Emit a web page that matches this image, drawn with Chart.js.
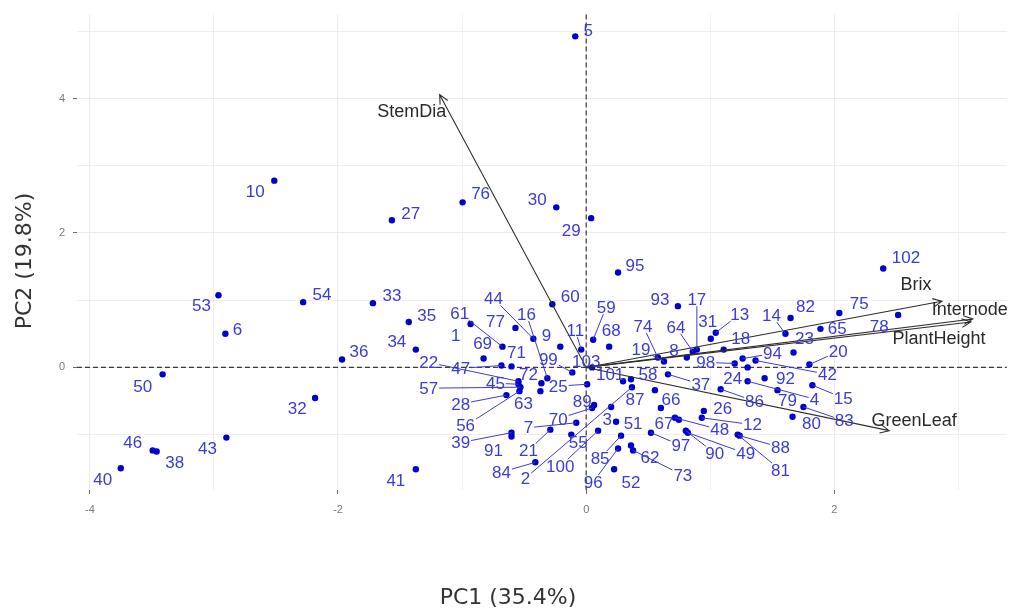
<!DOCTYPE html>
<html>
<head>
<meta charset="utf-8">
<script src="https://cdn.jsdelivr.net/npm/chart.js@4.4.1/dist/chart.umd.min.js"></script>
<style>
  html, body { margin: 0; padding: 0; background: #ffffff; }
  #wrap { width: 1010px; height: 612px; position: relative; }
</style>
</head>
<body>
<div id="wrap"><canvas id="biplot" width="1010" height="612"></canvas></div>
<script>
// Sample identifiers (1..103)
const ids = Array.from({ length: 103 }, (_, i) => String(i + 1));

// Principal component scores per sample
const pc1 = [
  -0.932, 0.369, 0.201, 1.301, -0.088, -2.908, -0.080, 0.811, -0.209, -2.514,
  -0.040, 0.932, 1.044, 1.606, 1.823, -0.313, 0.892, 1.108, 0.627, 1.799,
  -0.289, -0.546, 1.671, 1.301, 0.008, 0.948, -1.566, -0.643, 0.040, -0.241,
  1.004, -2.185, -1.719, -1.373, -1.430, -1.968, 0.659, -3.462, -0.602, -3.751,
  -1.373, 1.365, -2.900, -0.426, -0.546, -3.494, -0.683, 0.715, 0.819, -3.414,
  0.241, 0.225, -2.964, -2.281, -0.120, -0.538, -0.530, 0.554, 0.056, -0.273,
  -0.675, 0.361, -0.369, 0.859, 1.888, 0.602, 0.747, 0.185, -0.827, 0.048,
  -0.602, -0.361, 0.378, 0.578, 2.040, -0.996, -0.570, 2.514, 1.542, 1.663,
  1.221, 1.647, 1.751, -0.410, 0.281, 1.084, 0.297, 1.237, 0.064, 0.803,
  -0.602, 1.438, 0.739, 1.261, 0.257, 0.257, 0.522, 1.197, -0.112, 0.096,
  0.361, 2.394, 0.048
];
const pc2 = [
  0.647, -0.294, -0.588, -0.206, 4.926, 0.500, -0.824, 0.147, 0.309, 2.779,
  0.265, -0.750, 0.515, 0.500, -0.265, -0.162, 0.265, 0.265, 0.088, 0.044,
  -0.926, -0.206, 0.221, 0.000, -0.250, -0.647, 2.191, -0.412, 2.221, 2.382,
  0.426, -0.456, 0.956, 0.265, 0.676, 0.118, -0.103, -1.250, -0.971, -1.500,
  -1.515, 0.103, -1.044, 0.426, -0.250, -1.235, 0.029, -0.750, -0.971, -0.103,
  -0.809, -1.515, 1.074, 0.971, -1.000, -0.353, -0.294, -0.338, 0.412, 0.941,
  0.309, -1.162, -0.353, 0.235, 0.574, -0.603, -0.779, 0.309, 0.132, -0.603,
  0.015, -0.235, -1.235, 0.147, 0.809, 2.456, 0.588, 0.779, -0.338, -0.735,
  -1.000, 0.735, -0.588, -1.412, -1.015, -0.324, -0.206, -1.015, -0.559, -0.941,
  -1.029, -0.162, 0.912, 0.132, 1.412, -1.206, -0.971, 0.059, -0.074, -0.941,
  -0.176, 1.471, 0.000
];

// Repelled text anchor of each sample label, in score units
const labelPc1 = [
  -1.052, -0.490, 0.169, 1.839, 0.016, -2.811, -0.466, 0.707, -0.321, -2.667,
  -0.088, 1.341, 1.237, 1.494, 2.072, -0.482, 0.892, 1.245, 0.442, 2.032,
  -0.466, -1.269, 1.759, 1.181, -0.225, 1.100, -1.414, -1.012, -0.120, -0.394,
  0.980, -2.329, -1.566, -1.526, -1.285, -1.831, 0.924, -3.317, -1.012, -3.896,
  -1.534, 1.944, -3.052, -0.747, -0.731, -3.655, -1.012, 1.076, 1.285, -3.574,
  0.378, 0.361, -3.100, -2.129, -0.064, -0.972, -1.269, 0.498, 0.161, -0.129,
  -1.020, 0.514, -0.506, 0.723, 2.024, 0.683, 0.627, 0.201, -0.835, -0.225,
  -0.562, -0.466, 0.779, 0.458, 2.201, -0.851, -0.731, 2.361, 1.622, 1.815,
  1.566, 1.767, 2.080, -0.683, 0.112, 1.357, 0.394, 1.566, -0.032, 1.036,
  -0.747, 1.606, 0.594, 1.502, 0.394, 0.056, 0.763, 0.964, -0.305, -0.209,
  0.193, 2.578, 0.000
];
const labelPc2 = [
  0.485, -1.647, -0.779, -0.471, 5.015, 0.574, -0.897, 0.250, 0.485, 2.618,
  0.559, -0.853, 0.794, 0.779, -0.456, 0.794, 1.015, 0.426, 0.265, 0.235,
  -1.235, 0.074, 0.426, -0.162, -0.279, -0.603, 2.294, -0.544, 2.044, 2.500,
  0.691, -0.603, 1.074, 0.382, 0.779, 0.235, -0.250, -1.412, -1.118, -1.662,
  -1.676, -0.103, -1.206, 1.029, -0.235, -1.118, -0.015, -0.926, -1.279, -0.279,
  -0.838, -1.706, 0.926, 1.088, -1.118, -0.868, -0.309, -0.103, 0.897, 1.059,
  0.809, -1.338, -0.529, 0.603, 0.588, -0.471, -0.838, 0.559, 0.353, -0.765,
  0.221, -0.103, -1.603, 0.618, 0.956, 2.588, 0.691, 0.618, -0.485, -0.838,
  -1.529, 0.912, -0.794, -1.559, -1.353, -0.500, -0.471, -1.191, -0.500, -1.279,
  -1.235, -0.162, 1.015, 0.206, 1.515, -1.706, -1.162, 0.074, 0.118, -1.471,
  -0.103, 1.632, 0.088
];

// Variable loadings (arrow tips) and their text anchors
const variables   = ['StemDia', 'Brix', 'Internode', 'PlantHeight', 'GreenLeaf'];
const loadPc1     = [-1.181, 2.867, 3.116, 3.100, 2.442];
const loadPc2     = [4.059, 0.985, 0.721, 0.676, -0.941];
const varLabelPc1 = [-1.406, 2.659, 3.092, 2.843, 2.643];
const varLabelPc2 = [3.809, 1.235, 0.868, 0.441, -0.779];

// Axis ticks and titles
const xTicks = [-4, -3, -2, -1, 0, 1, 2, 3];
const yTicks = [-1, 0, 1, 2, 3, 4, 5];
const xTitle = 'PC1 (35.4%)';
const yTitle = 'PC2 (19.8%)';

const isMajor = v => Math.abs(v % 2) < 1e-9;

// Draws the zero reference lines, loading arrows, sample labels and axis titles
const biplotLayer = {
  id: 'biplotLayer',
  beforeDatasetsDraw(chart) {
    const { ctx, chartArea: a, scales: { x, y } } = chart;
    const x0 = x.getPixelForValue(0), y0 = y.getPixelForValue(0);
    ctx.save();
    ctx.strokeStyle = '#3c3c3c';
    ctx.lineWidth = 1.2;
    ctx.setLineDash([5, 3]);
    ctx.beginPath();
    ctx.moveTo(a.left, y0); ctx.lineTo(a.right, y0);
    ctx.moveTo(x0, a.top); ctx.lineTo(x0, a.bottom);
    ctx.stroke();
    ctx.restore();
  },
  afterDatasetsDraw(chart) {
    const { ctx, scales: { x, y } } = chart;
    const x0 = x.getPixelForValue(0), y0 = y.getPixelForValue(0);

    // loading arrows
    ctx.save();
    ctx.strokeStyle = '#2e2e2e';
    ctx.lineWidth = 1.1;
    variables.forEach((v, i) => {
      const tx = x.getPixelForValue(loadPc1[i]);
      const ty = y.getPixelForValue(loadPc2[i]);
      const ang = Math.atan2(ty - y0, tx - x0);
      const len = 10, spread = Math.PI / 7;
      ctx.beginPath();
      ctx.moveTo(x0, y0); ctx.lineTo(tx, ty);
      ctx.moveTo(tx - len * Math.cos(ang - spread), ty - len * Math.sin(ang - spread));
      ctx.lineTo(tx, ty);
      ctx.lineTo(tx - len * Math.cos(ang + spread), ty - len * Math.sin(ang + spread));
      ctx.stroke();
    });
    ctx.restore();

    // sample labels with leader segments
    ctx.save();
    ctx.font = '17px "Liberation Sans", Arial, sans-serif';
    ctx.textAlign = 'center';
    ctx.textBaseline = 'middle';
    ctx.strokeStyle = '#3b3bd6';
    ctx.fillStyle = '#3b3bd6';
    ctx.lineWidth = 1;
    ids.forEach((id, i) => {
      const px = x.getPixelForValue(pc1[i]), py = y.getPixelForValue(pc2[i]);
      const lx = x.getPixelForValue(labelPc1[i]), ly = y.getPixelForValue(labelPc2[i]);
      const hw = ctx.measureText(id).width / 2 + 1, hh = 7;
      const dx = px - lx, dy = py - ly;
      const gap = Math.hypot(Math.max(Math.abs(dx) - hw, 0), Math.max(Math.abs(dy) - hh, 0));
      if (gap > 11.5) {
        const t = Math.min(dx !== 0 ? hw / Math.abs(dx) : Infinity, dy !== 0 ? hh / Math.abs(dy) : Infinity);
        ctx.beginPath();
        ctx.moveTo(lx + dx * t, ly + dy * t);
        ctx.lineTo(px, py);
        ctx.stroke();
      }
      ctx.fillText(id, lx, ly + 1);
    });
    ctx.restore();

    // variable names
    ctx.save();
    ctx.font = '18px "Liberation Sans", Arial, sans-serif';
    ctx.textAlign = 'center';
    ctx.textBaseline = 'middle';
    ctx.fillStyle = '#2a2a2a';
    variables.forEach((v, i) => {
      ctx.fillText(v, x.getPixelForValue(varLabelPc1[i]), y.getPixelForValue(varLabelPc2[i]) + 1);
    });
    ctx.restore();
  },
  afterDraw(chart) {
    const { ctx } = chart;
    ctx.save();
    ctx.font = '22px "DejaVu Sans", sans-serif';
    ctx.fillStyle = '#333333';
    ctx.textAlign = 'center';
    ctx.textBaseline = 'middle';
    ctx.fillText(xTitle, 508, 598);
    ctx.translate(25, 261);
    ctx.rotate(-Math.PI / 2);
    ctx.fillText(yTitle, 0, 0);
    ctx.restore();
  }
};

const axisStyle = (ticks, padding) => ({
  type: 'linear',
  afterBuildTicks: s => { s.ticks = ticks.map(v => ({ value: v })); },
  border: { display: false },
  grid: {
    color: '#ebebeb',
    lineWidth: c => (c.tick && isMajor(c.tick.value) ? 1.1 : 0.8),
    tickLength: 4,
    tickWidth: 1,
    tickColor: c => (c.tick && isMajor(c.tick.value) ? '#666666' : 'rgba(0,0,0,0)')
  },
  ticks: {
    autoSkip: false,
    maxRotation: 0,
    padding,
    color: '#7a7a7a',
    font: { family: '"Liberation Sans", Arial, sans-serif', size: 11 },
    callback: v => (isMajor(v) ? String(v) : '')
  }
});

new Chart(document.getElementById('biplot'), {
  type: 'scatter',
  data: {
    datasets: [{
      data: ids.map((id, i) => ({ x: pc1[i], y: pc2[i] })),
      pointRadius: 3.2,
      pointHoverRadius: 3.2,
      pointBackgroundColor: '#0000cd',
      pointBorderWidth: 0
    }]
  },
  options: {
    responsive: false,
    animation: false,
    devicePixelRatio: 1,
    events: [],
    layout: { padding: { top: 9, left: 0, right: 0, bottom: 0 } },
    plugins: { legend: { display: false }, tooltip: { enabled: false } },
    scales: {
      x: Object.assign(axisStyle(xTicks, 9), {
        min: -4.104, max: 3.39,
        afterFit: s => { s.height = 122; }
      }),
      y: Object.assign(axisStyle(yTicks, 8), {
        min: -1.824, max: 5.25,
        afterFit: s => { s.width = 77; }
      })
    }
  },
  plugins: [biplotLayer]
});
</script>
</body>
</html>
